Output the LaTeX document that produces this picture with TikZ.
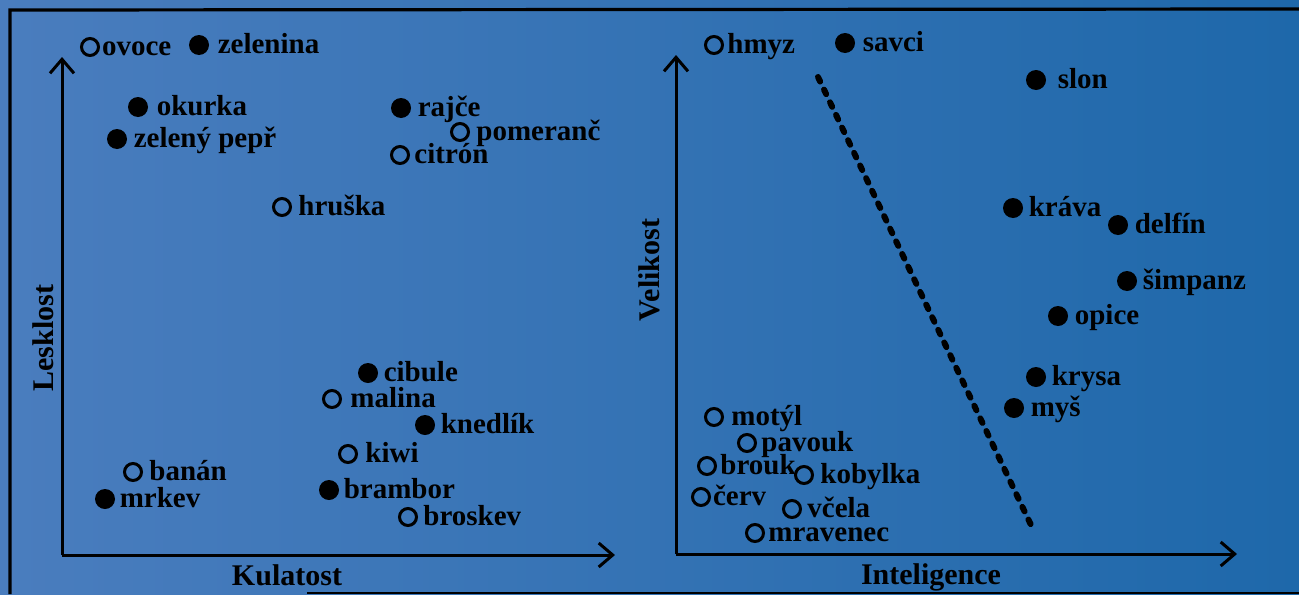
\documentclass[tikz,border=0pt]{standalone}
\usepackage{fontspec}
\setmainfont{Liberation Serif}
\usepackage{tikz}
\usetikzlibrary{positioning}
\usetikzlibrary{arrows.meta}

\definecolor{bgleft}{RGB}{74,125,190}
\definecolor{bgright}{RGB}{30,104,170}

\tikzset{
  fulldot/.style={circle, fill=black, inner sep=0pt, minimum width=9pt, minimum height=10pt},
  opendot/.style={circle, draw=black, line width=1.5pt, inner sep=0pt, minimum size=8.5pt},
  itemtext/.style={font=\bfseries\fontsize{14.5}{17}\selectfont, inner sep=0pt, text height=0.6em, text depth=0pt, yshift=-1.2pt},
  axistext/.style={font=\bfseries\fontsize{15}{18}\selectfont, inner sep=0pt},
  axis/.style={line width=1.5pt, -{Straight Barb[length=7pt,width=12pt]}},
}

\begin{document}
\begin{tikzpicture}[x=0.5pt, y=-0.5pt]
            % Background
            \useasboundingbox (0,0) rectangle (1299,594);
            \fill[left color=bgleft, right color=bgright] (0,0) rectangle (1299,594);
            
            % Frame
            \draw[line width=1.6pt] (10,594) -- (10,10) -- (1299,9);
            \draw[line width=1pt] (307,593) -- (1299,593);
            
            % Left axes
            \coordinate (lo) at (62,555);
            \coordinate (ltop) at (62,57);
            \coordinate (lright) at (615,555);
            \draw[axis] (lo) -- (ltop);
            \draw[axis] (lo) -- (lright);
            \node[axistext, rotate=90, anchor=base] (lesklost) at (53,338) {Lesklost};
            \node[axistext, anchor=base] (kulatost) at (287,585) {Kulatost};
            
            % Right axes
            \coordinate (ro) at (676,554);
            \coordinate (rtop) at (676,55);
            \coordinate (rright) at (1237,554);
            \draw[axis] (ro) -- (rtop);
            \draw[axis] (ro) -- (rright);
            \node[axistext, rotate=90, anchor=base] (velikost) at (659,270) {Velikost};
            \node[axistext, anchor=base] (inteligence) at (931,584) {Inteligence};
            
            % Fruit and vegetables
            \node[opendot] (ovoce) at (90,47) {}; \node[itemtext, right=0.8pt of ovoce] (ovoce-t) {ovoce};
            \node[fulldot] (zelenina) at (199,45) {}; \node[itemtext, right=4pt of zelenina] (zelenina-t) {zelenina};
            \node[fulldot] (okurka) at (138,107) {}; \node[itemtext, right=4pt of okurka] (okurka-t) {okurka};
            \node[fulldot] (pepr) at (117,139) {}; \node[itemtext, right=3pt of pepr] (pepr-t) {zelený pepř};
            \node[fulldot] (rajce) at (401,108) {}; \node[itemtext, right=3pt of rajce] (rajce-t) {rajče};
            \node[opendot] (pomeranc) at (460,132) {}; \node[itemtext, right=3pt of pomeranc] (pomeranc-t) {pomeranč};
            \node[opendot] (citron) at (400,155) {}; \node[itemtext, right=2pt of citron] (citron-t) {citrón};
            \node[opendot] (hruska) at (282,207) {}; \node[itemtext, right=3pt of hruska] (hruska-t) {hruška};
            \node[fulldot] (cibule) at (368,373) {}; \node[itemtext, right=2.5pt of cibule] (cibule-t) {cibule};
            \node[opendot] (malina) at (332,399) {}; \node[itemtext, right=4pt of malina] (malina-t) {malina};
            \node[fulldot] (knedlik) at (425,425) {}; \node[itemtext, right=2.5pt of knedlik] (knedlik-t) {knedlík};
            \node[opendot] (kiwi) at (348,454) {}; \node[itemtext, right=3.5pt of kiwi] (kiwi-t) {kiwi};
            \node[opendot] (banan) at (133,472) {}; \node[itemtext, right=3pt of banan] (banan-t) {banán};
            \node[fulldot] (mrkev) at (105,499) {}; \node[itemtext, right=2pt of mrkev] (mrkev-t) {mrkev};
            \node[fulldot] (brambor) at (329,490) {}; \node[itemtext, right=2pt of brambor] (brambor-t) {brambor};
            \node[opendot] (broskev) at (408,517) {}; \node[itemtext, right=2.5pt of broskev] (broskev-t) {broskev};
            
            % Animals
            \node[opendot] (hmyz) at (714,45) {}; \node[itemtext, right=1.5pt of hmyz] (hmyz-t) {hmyz};
            \node[fulldot] (savci) at (845,43) {}; \node[itemtext, right=3.5pt of savci] (savci-t) {savci};
            \node[fulldot] (slon) at (1036,80) {}; \node[itemtext, right=5.5pt of slon] (slon-t) {slon};
            \node[fulldot] (krava) at (1013,208) {}; \node[itemtext, right=2.5pt of krava] (krava-t) {kráva};
            \node[fulldot] (delfin) at (1118,225) {}; \node[itemtext, right=3pt of delfin] (delfin-t) {delfín};
            \node[fulldot] (simpanz) at (1127,281) {}; \node[itemtext, right=2.5pt of simpanz] (simpanz-t) {šimpanz};
            \node[fulldot] (opice) at (1058,316) {}; \node[itemtext, right=3pt of opice] (opice-t) {opice};
            \node[fulldot] (krysa) at (1036,377) {}; \node[itemtext, right=2.5pt of krysa] (krysa-t) {krysa};
            \node[fulldot] (mys) at (1014,408) {}; \node[itemtext, right=3pt of mys] (mys-t) {myš};
            \node[opendot] (motyl) at (714,417) {}; \node[itemtext, right=3.5pt of motyl] (motyl-t) {motýl};
            \node[opendot] (pavouk) at (747,443) {}; \node[itemtext, right=2pt of pavouk] (pavouk-t) {pavouk};
            \node[opendot] (brouk) at (707,466) {}; \node[itemtext, right=1.5pt of brouk] (brouk-t) {brouk};
            \node[opendot] (kobylka) at (804,475) {}; \node[itemtext, right=3pt of kobylka] (kobylka-t) {kobylka};
            \node[opendot] (cerv) at (701,497) {}; \node[itemtext, right=0.8pt of cerv] (cerv-t) {červ};
            \node[opendot] (vcela) at (792,509) {}; \node[itemtext, right=2.5pt of vcela] (vcela-t) {včela};
            \node[opendot] (mravenec) at (755,533) {}; \node[itemtext, right=1.5pt of mravenec] (mravenec-t) {mravenec};
            
            % Dividing line
            \coordinate (dtop) at (818,77);
            \coordinate (dbot) at (1031,525);
            \draw[line width=3pt, line cap=round, dash pattern=on 2.5pt off 4.5pt] (dtop) -- (dbot);
        \end{tikzpicture}
\end{document}
